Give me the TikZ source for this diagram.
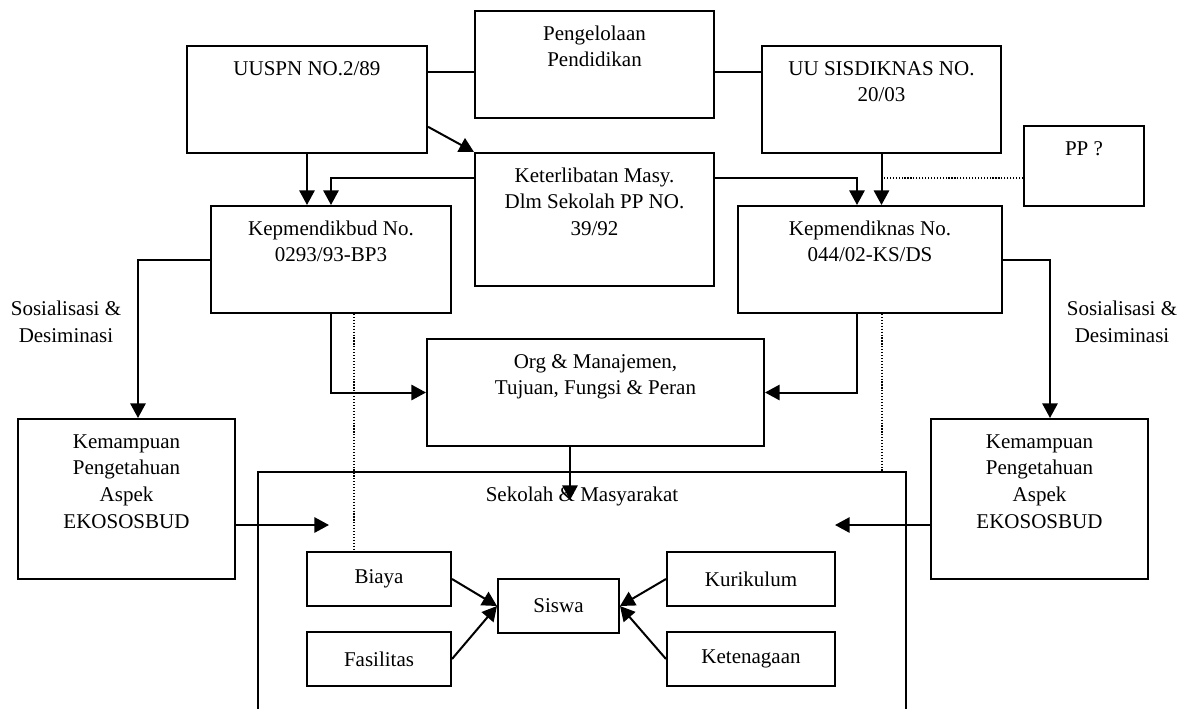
\documentclass[tikz,border=0pt]{standalone}
\usepackage{fontspec}
\setmainfont{Liberation Serif}
\usetikzlibrary{arrows.meta,positioning,calc}

\tikzset{
  box/.style 2 args={draw, rectangle, line width=1.5pt, anchor=north west,
    minimum width=#1*0.75pt, minimum height=#2*0.75pt, inner sep=0pt},
  txt/.style={align=center, inner sep=0pt, font=\fontsize{15.75}{20}\selectfont},
  link/.style={line width=1.5pt},
  arr/.style={line width=1.5pt, -{Triangle[length=11pt,width=11.5pt]}},
  dots/.style={line width=0.9pt, dash pattern=on 0.9pt off 1.3pt},
}

\begin{document}
\begin{tikzpicture}[x=0.75pt, y=-0.75pt]
\useasboundingbox (0,0) rectangle (1186,708);

% Upper row
\node[box={240}{107}] (uuspn) at (186,45) {};
\node[txt, below=8.5pt of uuspn.north] (uuspnT) {\strut UUSPN NO.2/89};
\node[box={239}{107}] (pengelolaan) at (474,10) {};
\node[txt, below=8.5pt of pengelolaan.north] (pengelolaanT) {\strut Pengelolaan\\Pendidikan};
\node[box={239}{107}] (sisdiknas) at (761,45) {};
\node[txt, below=8.5pt of sisdiknas.north] (sisdiknasT) {\strut UU SISDIKNAS NO.\\20/03};
\node[box={120}{80}] (pp) at (1023,125) {};
\node[txt, below=8.5pt of pp.north] (ppT) {\strut PP ?};

% Middle row
\node[box={239}{133}] (keterlibatan) at (474,152) {};
\node[txt, below=8.5pt of keterlibatan.north] (keterlibatanT) {\strut Keterlibatan Masy.\\Dlm Sekolah PP NO.\\39/92};
\node[box={240}{107}] (kepmendikbud) at (210,205) {};
\node[txt, below=8.5pt of kepmendikbud.north] (kepmendikbudT) {\strut Kepmendikbud No.\\0293/93-BP3};
\node[box={264}{107}] (kepmendiknas) at (737,205) {};
\node[txt, below=8.5pt of kepmendiknas.north] (kepmendiknasT) {\strut Kepmendiknas No.\\044/02-KS/DS};
\node[box={337}{107}] (org) at (426,338) {};
\node[txt, below=8.5pt of org.north] (orgT) {\strut Org \& Manajemen,\\Tujuan, Fungsi \& Peran};

% Side boxes
\node[box={217}{160}] (kemampuanL) at (17,418) {};
\node[txt, below=8.5pt of kemampuanL.north] (kemampuanLT) {\strut Kemampuan\\Pengetahuan\\Aspek\\EKOSOSBUD};
\node[box={217}{160}] (kemampuanR) at (930,418) {};
\node[txt, below=8.5pt of kemampuanR.north] (kemampuanRT) {\strut Kemampuan\\Pengetahuan\\Aspek\\EKOSOSBUD};
\node[txt] (sosL) at (66,322) {Sosialisasi \&\\Desiminasi};
\node[txt] (sosR) at (1122,322) {Sosialisasi \&\\Desiminasi};

% Sekolah & Masyarakat
\coordinate (skSW) at (258,712);
\coordinate (skNW) at (258,472);
\coordinate (skNE) at (906,472);
\coordinate (skSE) at (906,712);
\draw[link] (skSW) -- (skNW) -- (skNE) -- (skSE);
\node[txt] (sekolahT) at (582,496) {Sekolah \& Masyarakat};

\node[box={144}{54}, txt] (biaya) at (306,551) {Biaya};
\node[box={144}{54}, txt] (fasilitas) at (306,631) {Fasilitas};
\node[box={121}{54}, txt] (siswa) at (497,578) {Siswa};
\node[box={168}{54}, txt] (kurikulum) at (666,551) {Kurikulum};
\node[box={168}{54}, txt] (ketenagaan) at (666,631) {Ketenagaan};

% Connectors, top
\coordinate (uTop) at ($(uuspn.north east)!0.25!(uuspn.south east)$);
\draw[link] (uTop) -- (pengelolaan.west |- uTop);
\draw[link] (pengelolaan.east |- uTop) -- (sisdiknas.west |- uTop);
\draw[arr] ($(uuspn.north east)!0.75!(uuspn.south east)$) -- (keterlibatan.north west);
\draw[arr] (uuspn.south) -- (uuspn.south |- kepmendikbud.north);
\draw[arr] (sisdiknas.south) -- (sisdiknas.south |- kepmendiknas.north);

\coordinate (ketL) at ($(keterlibatan.north west)+(0,26)$);
\coordinate (ketR) at ($(keterlibatan.north east)+(0,26)$);
\coordinate (kdTop) at ($(kepmendiknas.north west)+(120,0)$);
\draw[arr] (ketL) -| (kepmendikbud.north);
\draw[arr] (ketR) -| (kdTop);
\draw[dots] (pp.west |- ketR) -- (sisdiknas.south |- ketR);

% Connectors, to Org
\coordinate (kdBot) at ($(kepmendiknas.south west)+(120,0)$);
\draw[arr] (kepmendikbud.south) |- (org.west);
\draw[arr] (kdBot) |- (org.east);
\coordinate (orgOut) at ($(org.south west)+(144,0)$);
\coordinate (skIn) at ($(orgOut)+(0,53)$);
\draw[arr] (orgOut) -- (skIn);

% dotted guides
\coordinate (dotL) at ($(kepmendikbud.south west)+(144,0)$);
\coordinate (dotR) at ($(kepmendiknas.south west)+(145,0)$);
\draw[dots] (dotL) -- (dotL |- biaya.north);
\draw[dots] (dotR) -- (dotR |- skNE);

% Sosialisasi & Desiminasi
\draw[arr] (kepmendikbud.west) -| ($(kemampuanL.north west)+(121,0)$);
\draw[arr] (kepmendiknas.east) -| ($(kemampuanR.north west)+(120,0)$);
\coordinate (inL) at (329,525);
\coordinate (inR) at (835,525);
\draw[arr] (kemampuanL.east |- inL) -- (inL);
\draw[arr] (kemampuanR.west |- inR) -- (inR);

% into Siswa
\foreach \src/\from/\to in {biaya/east/west, fasilitas/east/west, kurikulum/west/east, ketenagaan/west/east}
  \draw[arr] (\src.\from) -- (siswa.\to);

\end{tikzpicture}
\end{document}
